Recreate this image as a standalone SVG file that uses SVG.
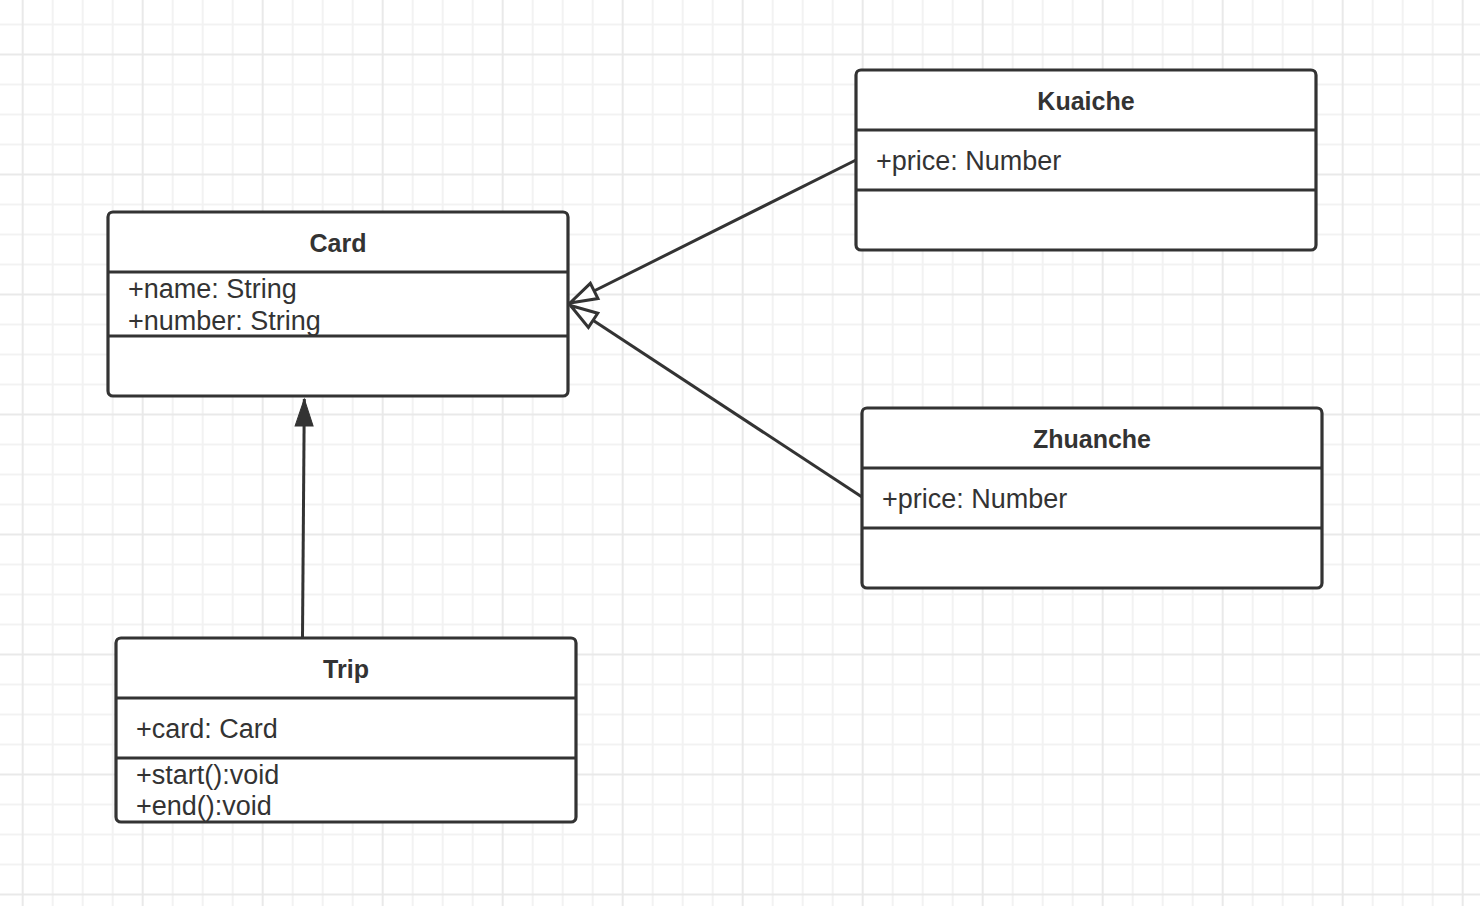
<svg xmlns="http://www.w3.org/2000/svg" width="1480" height="906" viewBox="0 0 1480 906">
<style>
.box{fill:#ffffff;stroke:#333333;stroke-width:3.2}
.div{stroke:#333333;stroke-width:3.2;fill:none}
.title{font-family:"Liberation Sans",Arial,sans-serif;font-size:25px;font-weight:bold;fill:#333333;text-anchor:middle}
.attr{font-family:"Liberation Sans",Arial,sans-serif;font-size:27px;fill:#333333}
.edge{stroke:#333333;stroke-width:3;fill:none}
</style>
<defs>
<pattern id="grid" patternUnits="userSpaceOnUse" x="21.7" y="53.5" width="120" height="120">
<path d="M31 0V120M61 0V120M91 0V120M0 31H120M0 61H120M0 91H120" stroke="#f2f2f2" stroke-width="2" fill="none"/>
<path d="M1 0V120M0 1H120" stroke="#e9e9e9" stroke-width="2" fill="none"/>
</pattern>
<marker id="hollow" viewBox="-32 -12 36 24" refX="0" refY="0" markerWidth="36" markerHeight="24" markerUnits="userSpaceOnUse" orient="auto" overflow="visible">
<path d="M0 0L-27 -8.5L-27 8.5Z" fill="#ffffff" stroke="#333333" stroke-width="3"/>
</marker>
<marker id="filled" viewBox="-32 -12 36 24" refX="0" refY="0" markerWidth="36" markerHeight="24" markerUnits="userSpaceOnUse" orient="auto" overflow="visible">
<path d="M0 0L-27 -9L-27 9Z" fill="#333333" stroke="#333333" stroke-width="1"/>
</marker>
</defs>
<rect x="0" y="0" width="1480" height="906" fill="#ffffff"/>
<rect x="0" y="0" width="1480" height="906" fill="url(#grid)"/>

<g id="connectors">
<path class="edge" d="M856 160L570 303" marker-end="url(#hollow)"/>
<path class="edge" d="M862 497L570.5 305.5" marker-end="url(#hollow)"/>
<path class="edge" d="M302.5 637L304.3 399" marker-end="url(#filled)"/>
</g>

<g id="card">
<rect class="box" x="108" y="212" width="460" height="184" rx="5"/>
<path class="div" d="M108 272H568M108 336H568"/>
<text class="title" x="338" y="251.5">Card</text>
<text class="attr" x="128" y="298">+name: String</text>
<text class="attr" x="128" y="330">+number: String</text>
</g>

<g id="kuaiche">
<rect class="box" x="856" y="70" width="460" height="180" rx="5"/>
<path class="div" d="M856 130H1316M856 190H1316"/>
<text class="title" x="1086" y="110">Kuaiche</text>
<text class="attr" x="876" y="170">+price: Number</text>
</g>

<g id="zhuanche">
<rect class="box" x="862" y="408" width="460" height="180" rx="5"/>
<path class="div" d="M862 468H1322M862 528H1322"/>
<text class="title" x="1092" y="448">Zhuanche</text>
<text class="attr" x="882" y="508">+price: Number</text>
</g>

<g id="trip">
<rect class="box" x="116" y="638" width="460" height="184" rx="5"/>
<path class="div" d="M116 698H576M116 758H576"/>
<text class="title" x="346" y="678">Trip</text>
<text class="attr" x="136" y="738">+card: Card</text>
<text class="attr" x="136" y="784">+start():void</text>
<text class="attr" x="136" y="815">+end():void</text>
</g>
</svg>
